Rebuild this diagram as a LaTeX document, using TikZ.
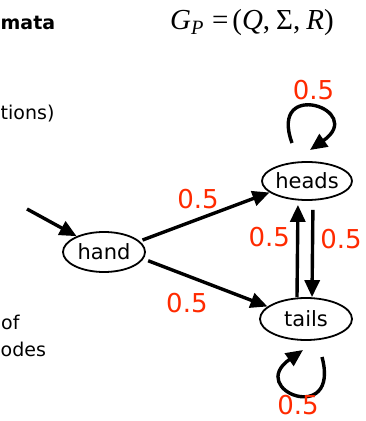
\documentclass[tikz,border=0pt]{standalone}
\usepackage{fontspec}
\setmainfont{DejaVu Sans}
\newfontfamily\timesfont{Liberation Serif}
\usepackage{tikz}
\usetikzlibrary{arrows.meta,positioning,shapes.geometric}
\definecolor{probred}{HTML}{FF2A00}

\begin{document}
\begin{tikzpicture}[x=1pt,y=1pt,
  state/.style={ellipse,draw,line width=1.8pt,inner sep=0pt,
                font=\fontsize{21}{24}\selectfont},
  arr/.style={line width=3.4pt,-{Triangle[length=17pt,width=15pt]}},
  lbl/.style={text=probred,font=\fontsize{26}{28}\selectfont,inner sep=1pt},
  side/.style={font=\fontsize{19}{24}\selectfont,inner sep=0pt,anchor=base west},
]
\useasboundingbox (0,0) rectangle (366,421);

% ---------- left margin text, cut off ----------
\node[side,font=\fontsize{19}{24}\selectfont\bfseries] (tmata) at (0.5,391) {mata};
\node[side] (ttions) at (0.5,301) {tions)};
\node[side] (tof) at (1,91) {of};
\node[side] (todes) at (0.5,64) {odes};

% ---------- formula ----------
\node[anchor=base west,inner sep=0pt,font=\fontsize{29}{32}\selectfont\timesfont] (gp)
  at (170,391)
  {\textit{G}\textsubscript{\textit{P}}\hspace{8pt}=\hspace{4pt}(\textit{Q},\hspace{6pt}Σ,\hspace{6pt}\textit{R})};

% ---------- states ----------
\node[state,minimum width=82pt,minimum height=40pt] (hand)  at (104,169) {hand};
\node[state,minimum width=90pt,minimum height=38pt] (heads) at (307,240) {heads};
\node[state,minimum width=92pt,minimum height=42pt] (tails) at (306,102) {tails};
\coordinate (start) at (27,212);

% ---------- transitions ----------
\draw[arr] (start) -- (hand.150);
\draw[arr,shorten <=3pt] (hand.17) -- (heads.197)
  node[lbl,pos=.45,above=8pt] (p1) {0.5};
\draw[arr,shorten <=5pt] (hand.-10) -- (tails.162)
  node[lbl,pos=.35,below=15pt] (p2) {0.5};
\draw[arr,shorten >=4pt] ([xshift=-9pt]tails.north) -- ([xshift=-9pt]heads.south)
  node[lbl,pos=.62,left=5pt] (p3) {0.5};
\draw[arr,shorten <=9pt] ([xshift=6pt]heads.south) -- ([xshift=6pt]tails.north)
  node[lbl,pos=.4,right=5pt] (p4) {0.5};

% self loops
\draw[arr] ([shift={(-15,38)}]heads.center)
  .. controls +(110:70) and +(35:70) .. ([shift={(3,31)}]heads.center)
  node[lbl,pos=.5,above=4pt] (p5) {0.5};
\draw[arr] ([shift={(16,-38)}]tails.center)
  .. controls +(-75:72) and +(215:70) .. ([shift={(-3,-31)}]tails.center)
  node[lbl,pos=.5,below=-2pt] (p6) {0.5};
\end{tikzpicture}
\end{document}
